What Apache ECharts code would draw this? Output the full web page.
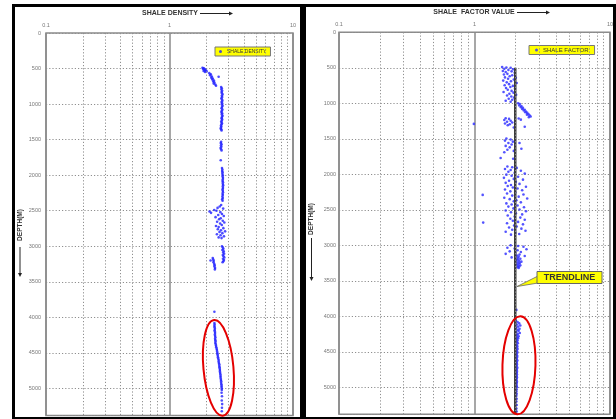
<!DOCTYPE html>
<html lang="en">
<head>
  <meta charset="UTF-8">
  <title>Shale density / shale factor</title>
  <script src="https://cdn.jsdelivr.net/npm/echarts@6/dist/echarts.min.js"></script>
  <style>
    html, body { margin: 0; padding: 0; background: #fff; }
  </style>
</head>
<body>
  <div id="app" style="width: 616px; height: 419px;"></div>
  <script>
    // shale density [value, depth m]
    var densityPoints = [
      [1.85,488],[1.90,497],[1.87,505],[1.95,512],[1.92,520],[1.98,528],[1.89,534],[2.00,541],[1.94,548],
      [2.10,565],[2.16,580],[2.13,595],[2.50,615],[2.20,612],[2.18,628],[2.24,640],[2.22,655],[2.29,668],
      [2.26,682],[2.31,697],[2.28,712],[2.35,726],[2.38,742],
      [2.62,760],[2.65,778],[2.63,795],[2.67,812],[2.64,830],[2.66,848],[2.69,865],[2.65,883],[2.67,900],
      [2.63,918],[2.66,935],[2.68,953],[2.64,970],[2.67,988],[2.65,1005],[2.69,1023],[2.66,1040],[2.64,1058],
      [2.68,1075],[2.66,1093],[2.63,1110],[2.67,1128],[2.65,1145],[2.69,1163],[2.66,1180],[2.64,1198],
      [2.67,1215],[2.65,1233],[2.62,1250],[2.66,1268],[2.64,1285],[2.61,1303],[2.63,1320],[2.60,1338],
      [2.62,1355],[2.64,1370],
      [2.62,1530],[2.60,1548],[2.64,1565],[2.61,1583],[2.63,1600],[2.59,1618],[2.62,1635],[2.64,1652],
      [2.60,1790],
      [2.66,1900],[2.68,1920],[2.67,1940],[2.69,1960],[2.68,1980],[2.70,2000],[2.69,2020],[2.71,2040],
      [2.70,2060],[2.69,2080],[2.71,2100],[2.70,2120],[2.72,2140],[2.70,2160],[2.71,2180],[2.69,2200],
      [2.70,2220],[2.71,2240],[2.69,2260],[2.70,2280],[2.68,2300],[2.70,2320],[2.67,2340],[2.69,2360],
      [2.62,2420],[2.55,2440],[2.45,2460],[2.72,2470],[2.30,2490],[2.40,2500],[2.11,2510],[2.58,2520],
      [2.17,2530],[2.66,2545],[2.48,2560],[2.75,2575],[2.36,2590],[2.60,2605],[2.52,2620],[2.70,2640],
      [2.43,2655],[2.78,2665],[2.57,2680],[2.65,2700],[2.38,2715],[2.50,2730],[2.73,2745],[2.46,2760],
      [2.61,2775],[2.82,2790],[2.54,2800],[2.68,2815],[2.42,2830],[2.59,2845],[2.76,2860],[2.50,2875],
      [2.64,2885],
      [2.66,3000],[2.70,3018],[2.73,3035],[2.68,3052],[2.75,3070],[2.72,3088],[2.77,3105],[2.70,3122],
      [2.74,3140],[2.78,3158],[2.71,3175],[2.76,3193],[2.73,3210],[2.69,3225],
      [2.24,3165],[2.26,3185],[2.15,3200],[2.28,3205],[2.27,3225],[2.30,3245],[2.32,3265],[2.31,3285],
      [2.34,3305],[2.33,3325],
      [2.31,3920],
      [2.31,4080],[2.32,4100],[2.31,4120],[2.32,4140],[2.33,4160],[2.32,4180],[2.33,4200],[2.34,4220],
      [2.33,4240],[2.34,4260],[2.35,4280],[2.34,4300],[2.35,4320],[2.36,4340],[2.35,4360],[2.37,4380],
      [2.38,4400],[2.39,4420],[2.41,4440],[2.42,4460],[2.43,4480],[2.44,4500],[2.45,4520],[2.46,4540],
      [2.47,4560],[2.48,4580],[2.50,4600],[2.50,4620],[2.51,4640],[2.53,4660],[2.53,4680],[2.54,4700],
      [2.55,4720],[2.56,4740],[2.56,4760],[2.57,4780],[2.58,4800],[2.59,4820],[2.59,4840],[2.60,4860],
      [2.61,4880],[2.62,4900],[2.62,4920],[2.63,4940],[2.64,4960],[2.64,4980],[2.65,5000],[2.65,5020],
      [2.64,5060],[2.66,5110],[2.65,5170],[2.67,5220],[2.66,5270],[2.65,5320]
    ]

    // shale factor [value, depth m]
    var factorPoints = [
      [1.60,490],[1.72,495],[1.85,500],[1.66,515],[1.93,520],[1.78,530],[1.62,545],[1.88,550],[1.70,560],
      [1.98,570],[1.75,585],[1.65,595],[1.90,605],[1.82,620],[1.68,635],[2.02,640],[1.77,655],[1.95,665],
      [1.63,680],[1.86,690],[1.73,705],[2.05,715],[1.80,730],[1.67,745],[1.92,755],[1.84,770],[1.71,785],
      [1.99,795],[1.76,810],[1.88,825],[1.64,840],[1.94,850],[1.81,865],[2.03,880],[1.74,890],[1.87,905],
      [1.96,920],[1.79,935],[1.90,950],[1.70,965],[1.85,978],
      [2.10,1000],[2.16,1010],[2.14,1030],[2.22,1040],[2.20,1055],[2.28,1065],[2.25,1080],[2.35,1090],
      [2.31,1100],[2.40,1115],[2.37,1125],[2.45,1135],[2.50,1150],[2.44,1160],[2.55,1170],[2.60,1185],
      [2.52,1195],
      [1.70,1210],[2.12,1215],[1.80,1220],[2.20,1230],[1.66,1235],[1.85,1245],[1.74,1260],[1.90,1270],
      [1.68,1285],[0.99,1290],[1.82,1295],[1.76,1310],[2.35,1330],[1.95,1340],
      [1.72,1495],[1.85,1510],[1.68,1525],[1.92,1540],[1.78,1560],[2.15,1560],[1.88,1580],[1.70,1600],
      [1.82,1620],[2.22,1640],[1.75,1655],[1.95,1670],[1.66,1690],
      [1.56,1770],[1.93,1780],
      [1.75,1890],[1.90,1900],[2.05,1910],[1.68,1925],[1.85,1940],[2.20,1950],[1.78,1965],[1.98,1980],
      [2.35,1990],[1.72,2005],[1.88,2020],[2.10,2035],[1.65,2050],[1.95,2065],[2.28,2075],[1.80,2090],
      [2.02,2105],[1.70,2120],[2.15,2135],[1.86,2150],[1.76,2165],[2.40,2175],[1.92,2185],[2.08,2200],
      [1.68,2215],[2.25,2225],[1.84,2240],[2.00,2255],[1.74,2270],[2.30,2285],[1.15,2290],[1.90,2300],
      [2.12,2315],[1.66,2330],[2.45,2340],[1.82,2350],[2.04,2365],[1.95,2380],[2.20,2395],[1.72,2410],
      [1.88,2425],
      [2.08,2440],[1.78,2455],[2.32,2465],[1.94,2480],[2.15,2495],[1.70,2510],[2.40,2520],[1.86,2535],
      [2.02,2550],[2.25,2565],[1.76,2580],[1.98,2595],[2.18,2610],[1.84,2625],[2.35,2640],[1.92,2655],
      [2.10,2670],[1.16,2680],[1.74,2690],[2.28,2705],[1.96,2720],[2.05,2735],[1.80,2750],[2.22,2765],
      [1.90,2780],[2.38,2795],[1.70,2810],[2.00,2825],[2.14,2840],[1.86,2850],
      [1.85,3000],[2.10,3010],[2.30,3020],[1.75,3035],[1.98,3045],[2.42,3055],[2.08,3070],[1.82,3085],
      [2.20,3095],[2.00,3110],[1.70,3120],[2.15,3130],[2.06,3145],[2.35,3150],[2.12,3160],[1.88,3170],
      [2.08,3180],[2.18,3190],[2.10,3200],[2.04,3210],[2.14,3220],[2.22,3230],[2.08,3240],[2.16,3250],
      [2.12,3260],[2.06,3270],[2.18,3280],[2.10,3290],[2.14,3300],[2.08,3310],[2.12,3320],
      [2.04,3910],
      [2.02,4060],[2.08,4080],[2.14,4100],[2.05,4115],[2.18,4130],[2.10,4145],[2.03,4160],[2.15,4175],
      [2.08,4190],[2.12,4205],[2.04,4220],[2.16,4235],[2.09,4250],[2.05,4265],[2.12,4280],[2.07,4295],
      [2.10,4310],[2.05,4325],[2.08,4340],[2.06,4360],[2.09,4380],[2.05,4400],[2.07,4420],[2.06,4440],
      [2.08,4460],[2.05,4480],[2.07,4500],[2.06,4520],[2.05,4540],[2.07,4560],[2.06,4580],[2.05,4600],
      [2.07,4620],[2.06,4640],[2.05,4660],[2.06,4680],[2.05,4700],[2.07,4720],[2.06,4740],[2.05,4760],
      [2.06,4780],[2.05,4800],[2.06,4820],[2.05,4840],[2.06,4860],[2.05,4880],[2.04,4900],[2.06,4920],
      [2.05,4940],[2.04,4960],[2.05,4980],[2.06,5000],[2.05,5030],[2.04,5060],[2.05,5090],[2.04,5120],
      [2.05,5160],[2.04,5200],[2.05,5250],[2.04,5300],[2.05,5340]
    ]

    var trendValue = 2
    var trendDepths = [500, 5380]
    var minorGrid = [0.2, 0.3, 0.4, 0.5, 0.6, 0.7, 0.8, 0.9, 2, 3, 4, 5, 6, 7, 8, 9]
    var depthMax = 5380
    var depthStep = 500
    // centres of the red rings (value, depth)
    var densityRing = [2.49, 4710]
    var factorRing = [2.13, 4690]

    var FONT = 'Liberation Sans, Arial, sans-serif'
    var dotted = { type: [1.2, 2], color: '#8f8f8f', width: 1 }

    var app = document.querySelector('#app')
    var mCharts = echarts.init(app)

    function xAxisFor(i) {
      return {
        type: 'log', logBase: 10, min: 0.1, max: 10, gridIndex: i, position: 'top',
        axisLine: { show: false }, axisTick: { show: false },
        axisLabel: { fontSize: 5.5, color: '#777', margin: 5, fontFamily: FONT },
        splitLine: { show: true, lineStyle: { color: '#8a8a8a', width: 1.5 } }
      }
    }
    function yAxisFor(i, margin) {
      return {
        type: 'value', inverse: true, min: 0, max: depthMax, interval: depthStep, gridIndex: i,
        axisLine: { show: false }, axisTick: { show: false },
        axisLabel: {
          fontSize: 5.5, color: '#777', margin: margin, fontFamily: FONT,
          formatter: function (v) { return v % depthStep === 0 ? v : '' }
        },
        splitLine: { show: true, lineStyle: dotted }
      }
    }
    var minorLines = {
      silent: true, symbol: ['none', 'none'], label: { show: false },
      lineStyle: dotted, emphasis: { disabled: true },
      data: minorGrid.map(function (v) { return { xAxis: v } })
    }
    function legendFor(name, left, top, size, pad) {
      return {
        data: [name], left: left, top: top, orient: 'horizontal',
        icon: 'circle', itemWidth: 3, itemHeight: 3, padding: pad,
        backgroundColor: '#ffff00', borderColor: '#777', borderWidth: 1, borderRadius: 0,
        selectedMode: false,
        textStyle: { fontSize: size, color: '#333', fontFamily: FONT }
      }
    }

    var option = {
      animation: false,
      backgroundColor: '#fff',
      grid: [
        { left: 46, top: 33, width: 247, height: 382.5, show: true, borderColor: '#8a8a8a', borderWidth: 1.5 },
        { left: 339, top: 32.3, width: 273.4, height: 382, show: true, borderColor: '#8a8a8a', borderWidth: 1.5 }
      ],
      xAxis: [xAxisFor(0), xAxisFor(1)],
      yAxis: [yAxisFor(0, 5), yAxisFor(1, 3)],
      legend: [
        legendFor('SHALE DENSITY', 215, 47, 5, [2, 4]),
        legendFor('SHALE FACTOR', 529, 45.5, 6, [1.5, 6])
      ],
      series: [
        {
          name: 'SHALE DENSITY', type: 'scatter', xAxisIndex: 0, yAxisIndex: 0,
          data: densityPoints, symbolSize: 2.6,
          itemStyle: { color: '#1f1fff' }, markLine: minorLines, z: 3
        },
        {
          name: 'TRENDLINE', type: 'line', xAxisIndex: 1, yAxisIndex: 1,
          data: trendDepths.map(function (d) { return [trendValue, d] }),
          symbol: 'none', lineStyle: { color: '#3c3c3c', width: 2.5 }, z: 4
        },
        {
          name: 'SHALE FACTOR', type: 'scatter', xAxisIndex: 1, yAxisIndex: 1,
          data: factorPoints, symbolSize: 2.6,
          itemStyle: { color: '#3535ff', opacity: 0.85 }, markLine: minorLines, z: 3
        }
      ]
    }
    mCharts.setOption(option)

    // annotations: frames, titles, depth arrows, rings, trendline callout
    var p1 = mCharts.convertToPixel({ xAxisIndex: 0, yAxisIndex: 0 }, densityRing)
    var p2 = mCharts.convertToPixel({ xAxisIndex: 1, yAxisIndex: 1 }, factorRing)

    function arrowRight(x1, x2, y) {
      return [
        { type: 'line', shape: { x1: x1, y1: y, x2: x2 - 3, y2: y }, style: { stroke: '#222', lineWidth: 1 } },
        { type: 'polygon', shape: { points: [[x2, y], [x2 - 4, y - 2], [x2 - 4, y + 2]] }, style: { fill: '#222' } }
      ]
    }
    function arrowDown(x, y1, y2) {
      return [
        { type: 'line', shape: { x1: x, y1: y1, x2: x, y2: y2 - 3 }, style: { stroke: '#222', lineWidth: 1 } },
        { type: 'polygon', shape: { points: [[x, y2], [x - 2, y2 - 4], [x + 2, y2 - 4]] }, style: { fill: '#222' } }
      ]
    }
    function label(x, y, text, font, rot, z) {
      return {
        type: 'text', x: x, y: y, rotation: rot || 0, z: z || 10,
        style: { text: text, font: font, fill: '#333', textAlign: 'center', textVerticalAlign: 'middle' }
      }
    }

    var graphics = [
      { type: 'rect', shape: { x: 13.5, y: 5.5, width: 288, height: 413 }, style: { fill: null, stroke: '#000', lineWidth: 3 } },
      { type: 'rect', shape: { x: 304.5, y: 5.5, width: 310, height: 413 }, style: { fill: null, stroke: '#000', lineWidth: 3 } },
      label(170, 13.5, 'SHALE DENSITY', 'bold 7px ' + FONT),
      label(474, 12.5, 'SHALE  FACTOR VALUE', 'bold 7px ' + FONT),
      label(20, 225, 'DEPTH(M)', 'bold 6.5px ' + FONT, Math.PI / 2),
      label(311, 219, 'DEPTH(M)', 'bold 6.5px ' + FONT, Math.PI / 2),
      {
        type: 'ellipse', x: p1[0], y: p1[1], rotation: 0.09,
        shape: { cx: 0, cy: 0, rx: 15, ry: 48 }, style: { fill: null, stroke: '#e40000', lineWidth: 2 }
      },
      {
        type: 'ellipse', x: p2[0], y: p2[1], rotation: -0.03,
        shape: { cx: 0, cy: 0, rx: 16.5, ry: 49 }, style: { fill: null, stroke: '#e40000', lineWidth: 2 }
      },
      {
        type: 'polygon', shape: { points: [[538, 276], [538, 283], [517, 286.5]] },
        style: { fill: '#ffff00', stroke: '#666', lineWidth: 0.8 }
      },
      {
        type: 'rect', shape: { x: 537, y: 271.5, width: 65, height: 12 }, z: 11,
        style: { fill: '#ffff00', stroke: '#666', lineWidth: 1 }
      },
      label(569.5, 278, 'TRENDLINE', 'bold 9px ' + FONT, 0, 12)
    ]
    graphics = graphics
      .concat(arrowRight(200, 233, 13.5))
      .concat(arrowRight(517, 550, 12.5))
      .concat(arrowDown(20, 247, 277))
      .concat(arrowDown(311.5, 238, 281))

    mCharts.setOption({ graphic: graphics.map(function (g) { if (g.z == null) g.z = 10; return g }) })
  </script>
</body>
</html>
